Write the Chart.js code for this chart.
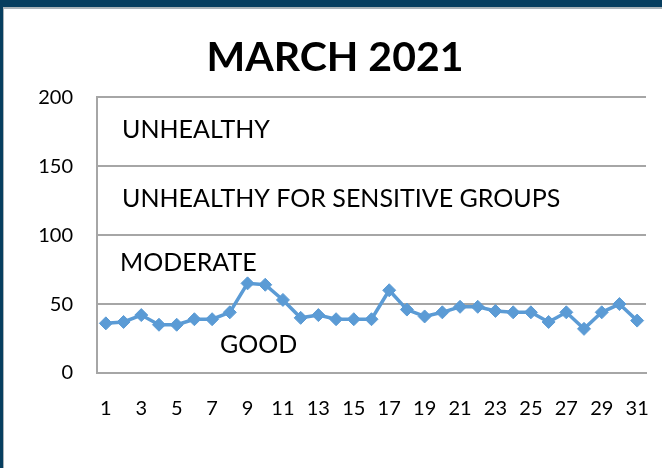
<!DOCTYPE html>
<html>
<head>
<meta charset="utf-8">
<script src="https://cdn.jsdelivr.net/npm/chart.js@4/dist/chart.umd.min.js"></script>
<style>
  html, body { margin: 0; padding: 0; }
  body { width: 662px; height: 468px; background: #063e5f; position: relative; overflow: hidden; }
  .sheet {
    position: absolute; left: 3px; top: 7px; width: 659px; height: 461px;
    background: #fff; border-top: 2px solid #aab3b8; border-left: 1px solid #aab3b8;
    box-sizing: border-box;
  }
  #chart { position: absolute; left: 0; top: 0; }
</style>
</head>
<body>
<div class="sheet"></div>
<canvas id="chart" width="662" height="468"></canvas>
<script>
const days = [1, 2, 3, 4, 5, 6, 7, 8, 9, 10, 11, 12, 13, 14, 15, 16,
              17, 18, 19, 20, 21, 22, 23, 24, 25, 26, 27, 28, 29, 30, 31]
const aqi  = [36, 37, 42, 35, 35, 39, 39, 44, 65, 64, 53, 40, 42, 39, 39, 39,
              60, 46, 41, 44, 48, 48, 45, 44, 44, 37, 44, 32, 44, 50, 38]
const yTicks = [0, 50, 100, 150, 200]

// air quality zone captions and the level each one sits at
const zoneNames  = ['UNHEALTHY', 'UNHEALTHY FOR SENSITIVE GROUPS', 'MODERATE', 'GOOD']
const zoneLevels = [176, 126, 80, 20]
const zoneIndent = [25, 25, 23, 123]   // px from left edge of plot

const FONT = 'Lato, "Open Sans", sans-serif'

const zoneCaptions = {
  id: 'zoneCaptions',
  afterDraw(chart) {
    const { ctx, chartArea, scales: { y } } = chart
    ctx.save()
    ctx.font = `25px ${FONT}`
    ctx.fillStyle = '#000'
    ctx.textBaseline = 'middle'
    ctx.textAlign = 'left'
    zoneNames.forEach((name, i) => {
      ctx.fillText(name, chartArea.left + zoneIndent[i], y.getPixelForValue(zoneLevels[i]))
    })
    ctx.restore()
  }
}

new Chart(document.getElementById('chart'), {
  type: 'line',
  data: {
    labels: days,
    datasets: [{
      data: aqi,
      borderColor: '#5b9bd5',
      backgroundColor: '#5b9bd5',
      borderWidth: 3.5,
      tension: 0,
      pointStyle: 'rectRot',
      pointRadius: 6.5,
      pointBorderWidth: 1,
      pointBackgroundColor: '#5b9bd5',
      pointBorderColor: '#5b9bd5'
    }]
  },
  options: {
    responsive: false,
    animation: false,
    layout: { padding: { left: 24, right: 16, top: 0, bottom: 0 } },
    plugins: {
      legend: { display: false },
      tooltip: { enabled: false },
      title: {
        display: true,
        text: 'MARCH 2021',
        color: '#000',
        font: { family: FONT, size: 41, weight: 'bold', lineHeight: 1.2 },
        padding: { top: 33, bottom: 15 }
      }
    },
    scales: {
      x: {
        offset: true,
        grid: { display: false, drawTicks: false },
        border: { display: true, color: '#a6a6a6', width: 2 },
        ticks: {
          autoSkip: false,
          maxRotation: 0,
          padding: 24,
          color: '#000',
          font: { family: FONT, size: 20 },
          callback: (v, i) => (i % 2 === 0 ? days[i] : '')
        },
        afterFit: (s) => { s.height = 95; s.paddingLeft = 0; s.paddingRight = 0 }
      },
      y: {
        min: yTicks[0],
        max: yTicks[yTicks.length - 1],
        afterBuildTicks: (s) => { s.ticks = yTicks.map(v => ({ value: v })) },
        grid: { color: '#a6a6a6', lineWidth: 2, drawTicks: false },
        border: { display: true, color: '#a6a6a6', width: 2 },
        ticks: { padding: 24, color: '#000', font: { family: FONT, size: 20 } },
        afterFit: (s) => { s.width = 73 }
      }
    }
  },
  plugins: [zoneCaptions]
})
</script>
</body>
</html>
